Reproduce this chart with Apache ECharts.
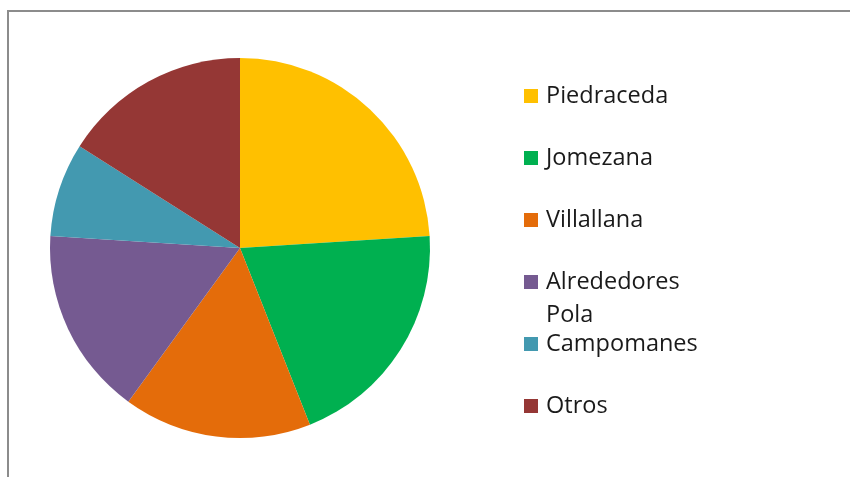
<!DOCTYPE html>
<html>
<head>
<meta charset="utf-8">
<script src="https://cdn.jsdelivr.net/npm/echarts@6/dist/echarts.min.js"></script>
<style>
  html, body { margin: 0; padding: 0; background: #fff; }
  #frame { position: absolute; left: 7px; top: 10px; width: 900px; height: 500px;
           border-left: 2px solid #8c8c8c; border-top: 2px solid #8c8c8c; }
  #chart { position: absolute; left: 0; top: 0; width: 850px; height: 477px; }
</style>
</head>
<body>
<div id="frame"></div>
<div id="chart"></div>
<script>
  const categories = ['Piedraceda', 'Jomezana', 'Villallana', 'Alrededores Pola', 'Campomanes', 'Otros'];
  const values = [6, 5, 4, 4, 2, 4];
  const colors = ['#ffc000', '#00b050', '#e46c0a', '#755a91', '#4399b0', '#953735'];

  // legend rows (y of each label's first line)
  const legendY = [96, 158, 220, 282, 344, 406];
  const LH = 33;

  const chart = echarts.init(document.getElementById('chart'));

  // one legend per row so the wrapped label doesn't push the rest down
  const legends = categories.map((name, i) => {
    const twoLines = name === 'Alrededores Pola';
    return {
      data: [name],
      left: 524,
      top: legendY[i] - (twoLines ? LH * 1.5 : LH / 2),
      padding: 0,
      icon: 'rect',
      itemWidth: 14,
      itemHeight: 14,
      itemGap: 0,
      selectedMode: false,
      // empty first line keeps "Alrededores" level with the square
      formatter: n => n === 'Alrededores Pola'
        ? '{t| }\n{t|Alrededores}\n{t|Pola}'
        : '{t|' + n + '}',
      textStyle: {
        fontFamily: 'Open Sans',
        fontSize: 23.5,
        color: '#1a1a1a',
        lineHeight: LH,
        rich: {
          t: {
            fontFamily: 'Open Sans',
            fontSize: 23.5,
            color: '#1a1a1a',
            lineHeight: LH,
            padding: [0, 0, 0, 3]
          }
        }
      }
    };
  });

  chart.setOption({
    animation: false,
    color: colors,
    legend: legends,
    series: [
      {
        type: 'pie',
        center: [240, 248],
        radius: 190,
        startAngle: 90,
        clockwise: true,
        label: { show: false },
        labelLine: { show: false },
        emphasis: { disabled: true },
        itemStyle: { borderWidth: 0 },
        data: categories.map((name, i) => ({ name, value: values[i] }))
      }
    ]
  });
</script>
</body>
</html>
